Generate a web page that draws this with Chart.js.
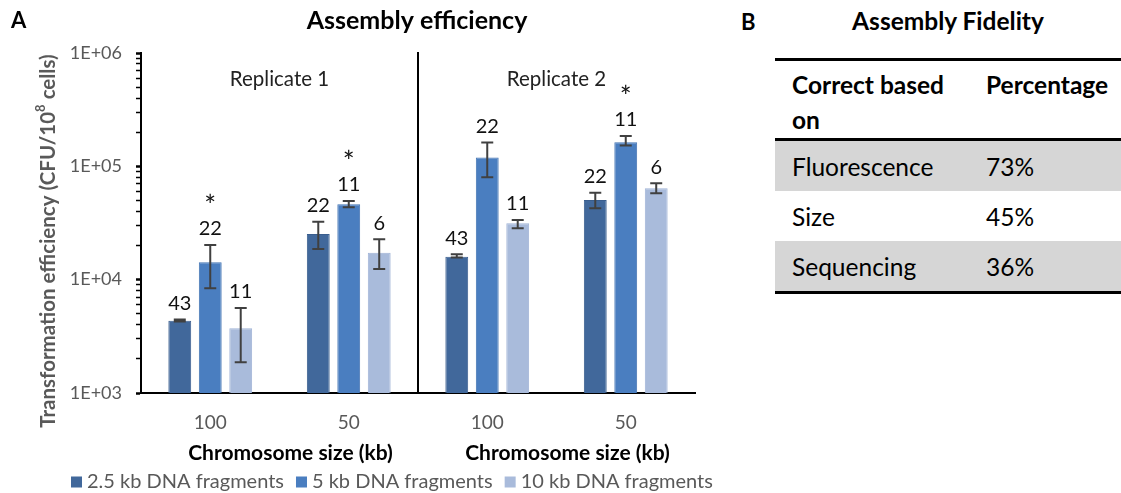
<!DOCTYPE html>
<html>
<head>
<meta charset="utf-8">
<script src="https://cdn.jsdelivr.net/npm/chart.js@4.4.1/dist/chart.umd.min.js"></script>
<style>
  body { margin: 0; background: #fff; font-family: Lato, "Noto Sans", sans-serif; }
  #wrap { position: relative; width: 1121px; height: 493px; overflow: hidden; }
  #chartBox { position: absolute; left: 0; top: 0; width: 740px; height: 493px; }
  .letter { position: absolute; top: 8px; font-weight: 700; font-size: 22px; color: #000; }
  #fidTitle { position: absolute; left: 775px; width: 346px; top: 6px; text-align: center; font-weight: 700; font-size: 24.5px; color: #000; }
  #fidTable { position: absolute; left: 775px; top: 58px; width: 346px; border-collapse: collapse; font-size: 24.5px; color: #000; }
  #fidTable td { padding: 0; vertical-align: middle; }
  #fidTable td:first-child { width: 194px; padding-left: 17px; }
  #fidTable tr.hd td { vertical-align: top; height: 80px; line-height: 35px; padding-top: 6px; box-sizing: border-box; font-weight: 700; border-top: 3px solid #000; border-bottom: 3px solid #000; }
  #fidTable tr.row td { height: 50px; }
  #fidTable tr.row.shade td { background: #d6d6d6; }
  #fidTable tr.row:last-child td { border-bottom: 3px solid #000; }
</style>
</head>
<body>
<div id="wrap">
  <div id="chartBox"><canvas id="effChart"></canvas></div>
  <div class="letter" style="left:741px">B</div>
  <div id="fidTitle">Assembly Fidelity</div>
  <table id="fidTable"></table>
</div>
<script>
// ---- data ----
const categories = ['100', '50', '100', '50'];
const replicates = ['Replicate 1', 'Replicate 2'];
const seriesLabels = ['2.5 kb DNA fragments', '5 kb DNA fragments', '10 kb DNA fragments'];

const eff2k5 = [4350, 25300, 15960, 50500];
const eff5k = [14230, 46300, 119400, 163000];
const eff10k = [3720, 17300, 31460, 64100];

const hi2k5 = [4450, 32500, 16750, 58600];
const lo2k5 = [4280, 18660, 15650, 42700];
const hi5k = [20240, 49500, 161900, 185400];
const lo5k = [8400, 43500, 80100, 152400];
const hi10k = [5630, 22700, 33650, 70900];
const lo10k = [1866, 12420, 28420, 57900];

const n2k5 = [43, 22, 43, 22];
const n5k = [22, 11, 22, 11];
const n10k = [11, 6, 11, 6];
const star2k5 = [false, false, false, false];
const star5k = [true, true, false, true];
const star10k = [false, false, false, false];

const majorTicks = [1e3, 1e4, 1e5, 1e6];

const fidelityHeader = ['Correct based<br>on', 'Percentage'];
const fidelityMethods = ['Fluorescence', 'Size', 'Sequencing'];
const fidelityPct = [73, 45, 36];

// ---- table (panel B) ----
const tbl = document.getElementById('fidTable');
tbl.innerHTML = `<tr class="hd"><td>${fidelityHeader[0]}</td><td>${fidelityHeader[1]}</td></tr>` +
    fidelityMethods.map((m, i) =>
        `<tr class="row ${i % 2 === 0 ? 'shade' : ''}"><td>${m}</td><td>${fidelityPct[i]}%</td></tr>`
    ).join('');

// ---- chart (panel A) ----
const GRAY = '#595959';
const FONT = 'Lato, "Noto Sans", sans-serif';
Chart.defaults.font.family = FONT;

function mkSet(label, data, hi, lo, n, star, fill, border) {
    return {
        label, data, errHi: hi, errLo: lo, counts: n, stars: star,
        backgroundColor: fill, borderColor: border, borderWidth: 1,
        categoryPercentage: 0.66, barPercentage: 0.75
    };
}

const decorations = {
    id: 'decorations',
    afterDatasetsDraw(chart) {
        const { ctx, chartArea: ca, scales: { x, y } } = chart;
        ctx.save();

        // error bars + counts + stars
        chart.data.datasets.forEach((ds, i) => {
            const meta = chart.getDatasetMeta(i);
            meta.data.forEach((bar, j) => {
                const top = y.getPixelForValue(ds.errHi[j]);
                const bot = y.getPixelForValue(ds.errLo[j]);
                ctx.strokeStyle = '#404040';
                ctx.lineWidth = 2;
                ctx.beginPath();
                ctx.moveTo(bar.x, top); ctx.lineTo(bar.x, bot);
                ctx.moveTo(bar.x - 6, top); ctx.lineTo(bar.x + 6, top);
                ctx.moveTo(bar.x - 6, bot); ctx.lineTo(bar.x + 6, bot);
                ctx.stroke();

                ctx.fillStyle = '#111';
                ctx.textAlign = 'center';
                ctx.textBaseline = 'middle';
                ctx.font = `20px ${FONT}`;
                ctx.fillText(String(ds.counts[j]), bar.x, top - 16);
                if (ds.stars[j]) {
                    ctx.font = `28px ${FONT}`;
                    ctx.fillText('*', bar.x, top - 38);
                }
            });
        });

        // divider between replicates
        const xDiv = (x.getPixelForValue(1) + x.getPixelForValue(2)) / 2;
        ctx.strokeStyle = '#000';
        ctx.lineWidth = 2;
        ctx.beginPath();
        ctx.moveTo(xDiv, ca.top - 1);
        ctx.lineTo(xDiv, ca.bottom);
        ctx.stroke();

        // replicate labels and axis titles
        const mids = [(x.getPixelForValue(0) + x.getPixelForValue(1)) / 2,
                      (x.getPixelForValue(2) + x.getPixelForValue(3)) / 2];
        ctx.textAlign = 'center';
        ctx.textBaseline = 'middle';
        mids.forEach((m, k) => {
            ctx.fillStyle = '#222';
            ctx.font = `20.5px ${FONT}`;
            ctx.fillText(replicates[k], m, 79);
            ctx.fillStyle = '#000';
            ctx.font = `bold 21px ${FONT}`;
            ctx.fillText('Chromosome size (kb)', m + 11, 453);
        });

        // chart title and panel letter
        ctx.font = `bold 25px ${FONT}`;
        ctx.fillText('Assembly efficiency', 417, 21);
        ctx.font = `bold 22px ${FONT}`;
        ctx.textAlign = 'left';
        ctx.fillText('A', 11, 21);

        // y axis title with superscript
        ctx.save();
        ctx.translate(48, 241);
        ctx.rotate(-Math.PI / 2);
        ctx.fillStyle = GRAY;
        const p1 = 'Transformation efficiency (CFU/10', p2 = '8', p3 = ' cells)';
        ctx.font = `bold 20.5px ${FONT}`;
        const w1 = ctx.measureText(p1).width, w3 = ctx.measureText(p3).width;
        ctx.font = `bold 13px ${FONT}`;
        const w2 = ctx.measureText(p2).width;
        const sx = -(w1 + w2 + w3) / 2;
        ctx.textBaseline = 'middle';
        ctx.font = `bold 20.5px ${FONT}`;
        ctx.fillText(p1, sx, 0);
        ctx.font = `bold 13px ${FONT}`;
        ctx.fillText(p2, sx + w1, -7);
        ctx.font = `bold 20.5px ${FONT}`;
        ctx.fillText(p3, sx + w1 + w2, 0);
        ctx.restore();

        // legend
        ctx.font = `20px ${FONT}`;
        ctx.textBaseline = 'middle';
        let lx = 71;
        const ly = 482;
        chart.data.datasets.forEach(ds => {
            ctx.fillStyle = ds.backgroundColor;
            ctx.fillRect(lx, ly - 5.5, 11, 11);
            ctx.fillStyle = GRAY;
            ctx.fillText(ds.label, lx + 16, ly);
            lx += 16 + ctx.measureText(ds.label).width + 12;
        });

        ctx.restore();
    }
};

new Chart(document.getElementById('effChart'), {
    type: 'bar',
    data: {
        labels: categories,
        datasets: [
            mkSet(seriesLabels[0], eff2k5, hi2k5, lo2k5, n2k5, star2k5, '#41689b', '#3a5e8e'),
            mkSet(seriesLabels[1], eff5k, hi5k, lo5k, n5k, star5k, '#4a7ec0', '#4373b2'),
            mkSet(seriesLabels[2], eff10k, hi10k, lo10k, n10k, star10k, '#a9bbdb', '#a0b3d6')
        ]
    },
    options: {
        responsive: true,
        maintainAspectRatio: false,
        animation: false,
        layout: { padding: { top: 53, right: 45, left: 0, bottom: 0 } },
        plugins: {
            legend: { display: false },
            tooltip: { enabled: false }
        },
        scales: {
            x: {
                grid: { drawOnChartArea: false, drawTicks: false },
                border: { display: true, color: '#000', width: 2 },
                ticks: { color: GRAY, font: { size: 19 }, padding: 18 },
                afterFit: s => { s.height = 100; }
            },
            y: {
                type: 'logarithmic',
                min: 1e3,
                max: 1e6,
                grid: {
                    drawOnChartArea: false,
                    tickLength: 5,
                    tickColor: '#000',
                    tickWidth: c => (majorTicks.includes(c.tick.value) ? 2.5 : 1.5)
                },
                border: { display: true, color: '#000', width: 2 },
                afterBuildTicks: s => {
                    const vals = [];
                    majorTicks.forEach((m, i) => {
                        vals.push(m);
                        if (i < majorTicks.length - 1) for (let k = 2; k <= 9; k++) vals.push(m * k);
                    });
                    s.ticks = vals.map(v => ({ value: v, major: majorTicks.includes(v) }));
                },
                ticks: {
                    color: GRAY,
                    font: { size: 18 },
                    padding: 14,
                    autoSkip: false,
                    callback: v => majorTicks.includes(v) ? '1E+0' + Math.round(Math.log10(v)) : ''
                },
                afterFit: s => { s.width = 141; }
            }
        }
    },
    plugins: [decorations]
});
</script>
</body>
</html>
